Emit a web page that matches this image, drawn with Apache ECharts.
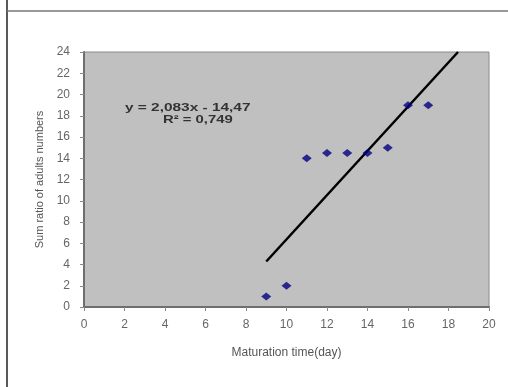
<!DOCTYPE html>
<html><head><meta charset="utf-8">
<script src="https://cdn.jsdelivr.net/npm/echarts@6/dist/echarts.min.js"></script>
<style>html,body{margin:0;padding:0;background:#fff}#c{width:508px;height:387px}</style>
</head><body><div id="c"></div>
<script>
const days = [9, 10, 11, 12, 13, 14, 15, 16, 17];
const sumRatio = [1, 2, 14, 14.5, 14.5, 14.5, 15, 19, 19];
const trendX = [9, 18.47];
const trendY = [4.28, 24];
const equationText = ['y = 2,083x - 14,47', 'R² = 0,749'];
const xTicks = [0, 2, 4, 6, 8, 10, 12, 14, 16, 18, 20];
const yTicks = [0, 2, 4, 6, 8, 10, 12, 14, 16, 18, 20, 22, 24];

const chart = echarts.init(document.getElementById('c'), null, {renderer: 'canvas'});
const font = 'Liberation Sans, Arial, sans-serif';
chart.setOption({
  animation: false,
  backgroundColor: '#fff',
  grid: {left: 84, top: 52, right: 19, bottom: 80, show: true, backgroundColor: '#c0c0c0', borderColor: '#8a8a8a', borderWidth: 1},
  xAxis: {
    type: 'value', min: xTicks[0], max: xTicks[xTicks.length - 1], interval: 2,
    name: 'Maturation time(day)', nameLocation: 'middle', nameGap: 40,
    nameTextStyle: {fontFamily: font, fontSize: 12, color: '#555'},
    axisLine: {lineStyle: {color: '#6e6e6e', width: 2}},
    axisTick: {show: true, length: 4, lineStyle: {color: '#888'}},
    axisLabel: {fontFamily: font, fontSize: 12, color: '#666', margin: 12},
    splitLine: {show: false}
  },
  yAxis: {
    type: 'value', min: yTicks[0], max: yTicks[yTicks.length - 1], interval: 2,
    name: 'Sum ratio of adults numbers', nameLocation: 'middle', nameGap: 39, nameRotate: 90,
    nameTextStyle: {fontFamily: font, fontSize: 11, color: '#555'},
    axisLine: {lineStyle: {color: '#6e6e6e', width: 2}},
    axisTick: {show: true, length: 4, lineStyle: {color: '#888'}},
    axisLabel: {fontFamily: font, fontSize: 12, color: '#666', margin: 14},
    splitLine: {show: false}
  },
  graphic: [
    {type: 'line', shape: {x1: 7, y1: 0, x2: 7, y2: 387}, style: {stroke: '#222', lineWidth: 1.5}, z: 100},
    {type: 'line', shape: {x1: 7, y1: 11, x2: 508, y2: 11}, style: {stroke: '#777', lineWidth: 1.5}, z: 100},
    {type: 'text', x: 125, y: 102, scaleX: 1.4, z: 100,
      style: {text: equationText[0], font: 'bold 11px ' + font, fill: '#333'}},
    {type: 'text', x: 163, y: 114, scaleX: 1.35, z: 100,
      style: {text: equationText[1], font: 'bold 11px ' + font, fill: '#333'}}
  ],
  series: [
    {
      type: 'scatter', data: days.map((d, i) => [d, sumRatio[i]]),
      symbol: 'diamond', symbolSize: [10, 8],
      itemStyle: {color: '#000080'}, z: 3
    },
    {
      type: 'line', data: trendX.map((x, i) => [x, trendY[i]]),
      symbol: 'none', lineStyle: {color: '#000', width: 2.5}, z: 2
    }
  ]
});
</script></body></html>
